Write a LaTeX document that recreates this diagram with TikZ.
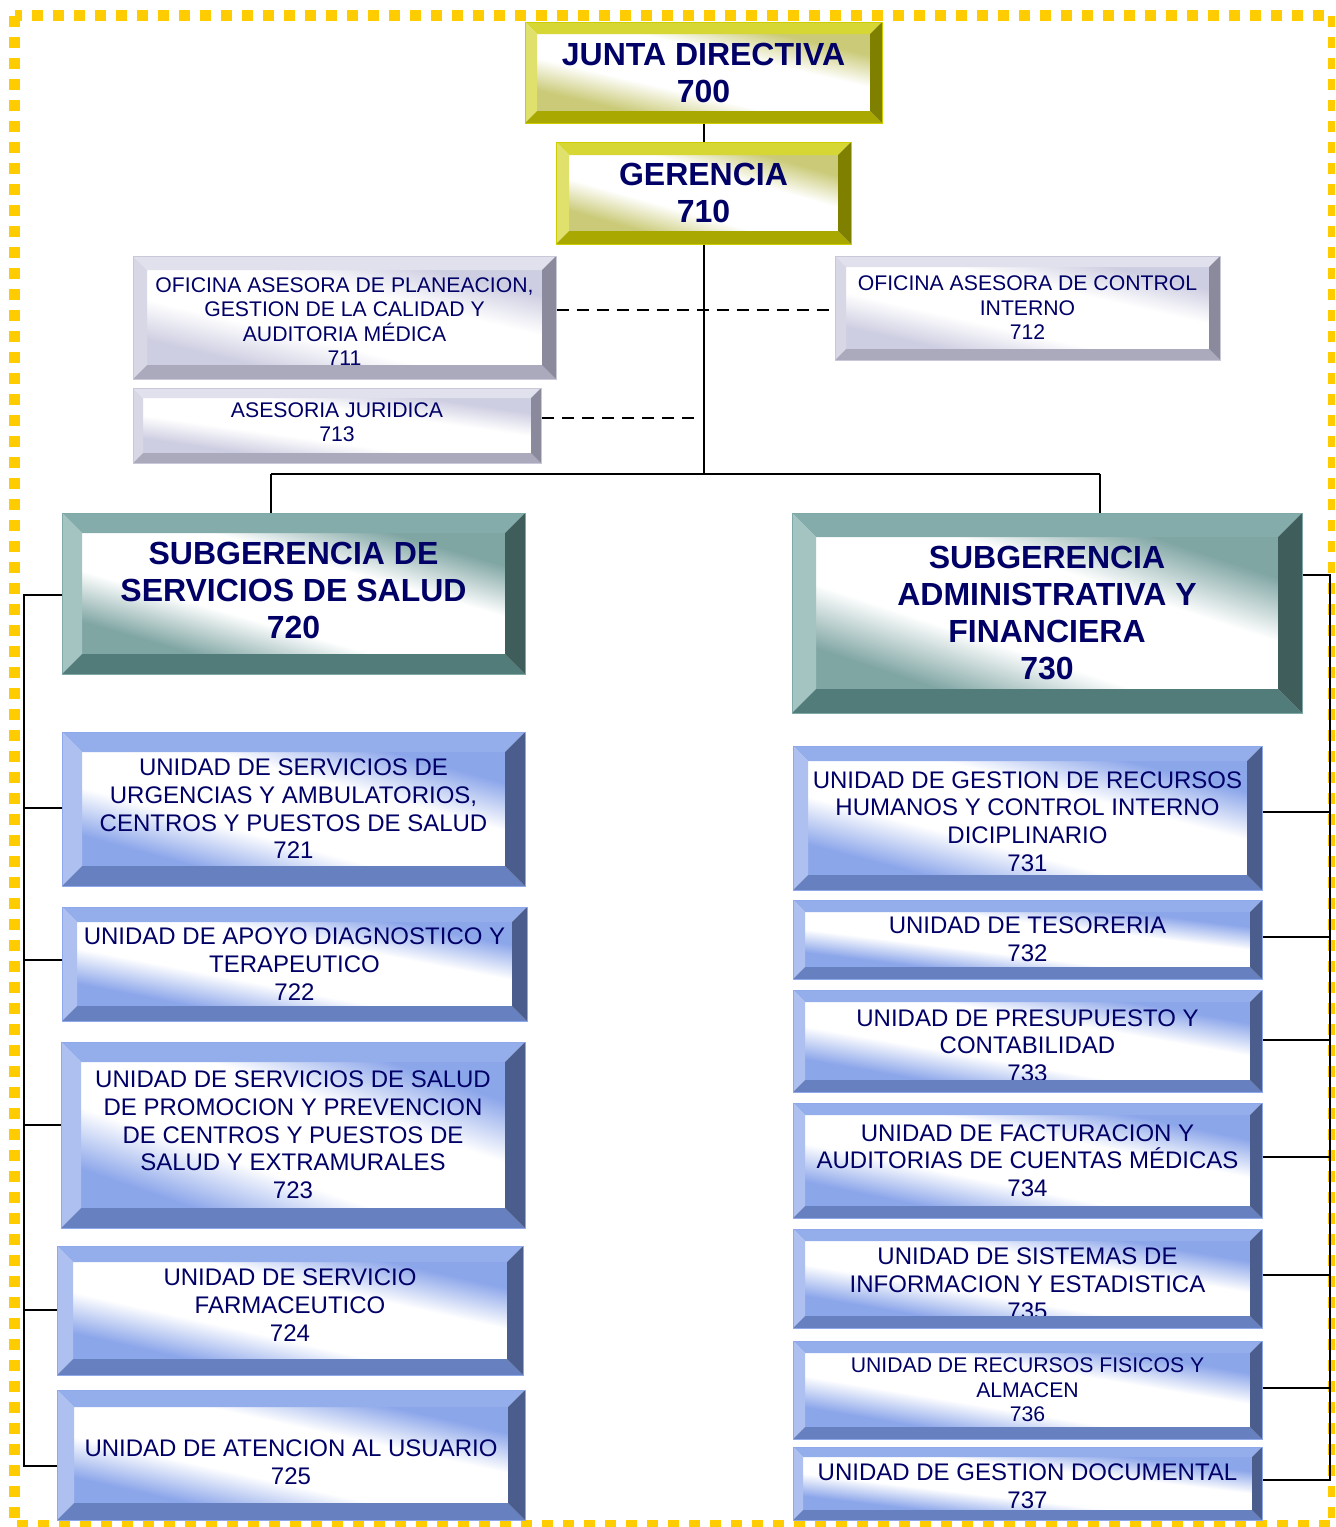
\documentclass[tikz,border=0pt]{standalone}
\usepackage{fontspec}
\setmainfont{Liberation Sans}

\definecolor{navytxt}{HTML}{000066}
\definecolor{frame}{HTML}{FFCC00}
% palettes: top, left, bottom, right bevel, face, outline
\definecolor{yeltop}{HTML}{D6D634}
\definecolor{yelleft}{HTML}{E0E06C}
\definecolor{yelbot}{HTML}{A8A800}
\definecolor{yelright}{HTML}{7F7F00}
\definecolor{yelface}{HTML}{CACA78}
\definecolor{yelline}{HTML}{CCCC00}
\definecolor{graytop}{HTML}{E1E1EE}
\definecolor{grayleft}{HTML}{D7D7E6}
\definecolor{graybot}{HTML}{AAAABC}
\definecolor{grayright}{HTML}{8A8A9C}
\definecolor{grayface}{HTML}{CECEE2}
\definecolor{grayline}{HTML}{C8C8D8}
\definecolor{tealtop}{HTML}{84ACAA}
\definecolor{tealleft}{HTML}{A4C4C2}
\definecolor{tealbot}{HTML}{527C79}
\definecolor{tealright}{HTML}{3F5E5B}
\definecolor{tealface}{HTML}{80A6A4}
\definecolor{tealline}{HTML}{7FA8A6}
\definecolor{bluetop}{HTML}{94ADEB}
\definecolor{blueleft}{HTML}{ADC0F0}
\definecolor{bluebot}{HTML}{6680C0}
\definecolor{blueright}{HTML}{4A5D8D}
\definecolor{blueface}{HTML}{8CA6EA}
\definecolor{blueline}{HTML}{8FA8EA}

% face shadings, white band across the middle
\pgfdeclarehorizontalshading{yelwash}{100bp}{color(0bp)=(yelface); color(24bp)=(yelface); color(39bp)=(white); color(61bp)=(white); color(76bp)=(yelface); color(100bp)=(yelface)}
\pgfdeclarehorizontalshading{graywash}{100bp}{color(0bp)=(grayface); color(24bp)=(grayface); color(39bp)=(white); color(61bp)=(white); color(76bp)=(grayface); color(100bp)=(grayface)}
\pgfdeclarehorizontalshading{tealwash}{100bp}{color(0bp)=(tealface); color(24bp)=(tealface); color(39bp)=(white); color(61bp)=(white); color(76bp)=(tealface); color(100bp)=(tealface)}
\pgfdeclarehorizontalshading{bluewash}{100bp}{color(0bp)=(blueface); color(24bp)=(blueface); color(39bp)=(white); color(61bp)=(white); color(76bp)=(blueface); color(100bp)=(blueface)}

\tikzset{
  toplabel/.style={font=\fontsize{16}{18.5}\selectfont\bfseries, text=navytxt, align=center, inner sep=0},
  unitlabel/.style={font=\fontsize{12}{13.85}\selectfont, text=navytxt, align=center, inner sep=0},
  notelabel/.style={font=\fontsize{10.6}{12.25}\selectfont, text=navytxt, align=center, inner sep=0},
  link/.style={draw=black, line width=1pt},
  notelink/.style={draw=black, line width=1.2pt, dash pattern=on 6pt off 4pt},
}

\newcommand{\bevelbox}[9]{%
% name, left, top, right, bottom, bevel width, palette, text options, text
  \pgfmathsetmacro{\xa}{#2}
  \pgfmathsetmacro{\ya}{#3}
  \pgfmathsetmacro{\xb}{#4}
  \pgfmathsetmacro{\yb}{#5}
  \pgfmathsetmacro{\bw}{#6}
  \pgfmathsetmacro{\sx}{(\xb-\xa-2*\bw)/100}
  \pgfmathsetmacro{\sy}{(\yb-\ya-2*\bw)/100}
  \shade[shading=#7wash, shading angle=45,
    transform canvas={shift={({(\xa+\xb)/2},{(\ya+\yb)/2})}, xscale=\sx, yscale=\sy}]
    (-50,-50) rectangle (50,50);
  \node[name=#1-txt, #8] at ({(\xa+\xb)/2},{(\ya+\yb)/2}) {#9};
  \fill[fill=#7top] (\xa,\ya) -- (\xb,\ya) -- (\xb-\bw,\ya+\bw) -- (\xa+\bw,\ya+\bw) -- cycle;
  \fill[fill=#7left] (\xa,\ya) -- (\xa+\bw,\ya+\bw) -- (\xa+\bw,\yb-\bw) -- (\xa,\yb) -- cycle;
  \fill[fill=#7bot] (\xa,\yb) -- (\xa+\bw,\yb-\bw) -- (\xb-\bw,\yb-\bw) -- (\xb,\yb) -- cycle;
  \fill[fill=#7right] (\xb,\ya) -- (\xb,\yb) -- (\xb-\bw,\yb-\bw) -- (\xb-\bw,\ya+\bw) -- cycle;
  \node[name=#1, draw=#7line, line width=0.5pt, inner sep=0,
    minimum width={(\xb-\xa)*0.5pt}, minimum height={(\yb-\ya)*0.5pt}]
    at ({(\xa+\xb)/2},{(\ya+\yb)/2}) {};
}

\begin{document}
\begin{tikzpicture}[x=0.5pt, y=-0.5pt]
  \useasboundingbox (0,0) rectangle (1335,1527);
  \clip (0,0) rectangle (1335,1527);
  \draw[frame, line width=5.5pt, dash pattern=on 5.5pt off 5pt] (14.5,15.5) rectangle (1333,1525);

  % direccion
  \bevelbox{b700}{525}{22}{882}{123}{12}{yel}{toplabel}{JUNTA DIRECTIVA\\700}
  \bevelbox{b710}{556}{142}{851}{244}{13}{yel}{toplabel}{GERENCIA\\710}
  \bevelbox{b711}{133}{256}{556}{379}{14}{gray}{notelabel, yshift=-2pt}{OFICINA ASESORA DE PLANEACION,\\GESTION DE LA CALIDAD Y\\AUDITORIA MÉDICA\\711}
  \bevelbox{b712}{835}{256}{1220}{360}{11}{gray}{notelabel}{OFICINA ASESORA DE CONTROL\\INTERNO\\712}
  \bevelbox{b713}{133}{388}{541}{463}{10}{gray}{notelabel, yshift=1.75pt}{ASESORIA JURIDICA\\713}

  % subgerencias
  \bevelbox{b720}{62}{513}{525}{674}{20}{teal}{toplabel, yshift=1.75pt}{SUBGERENCIA DE\\SERVICIOS DE SALUD\\720}
  \bevelbox{b730}{792}{513}{1302}{713}{24}{teal}{toplabel}{SUBGERENCIA\\ADMINISTRATIVA Y\\FINANCIERA\\730}

  % unidades salud
  \bevelbox{b721}{62}{732}{525}{886}{20}{blue}{unitlabel}{UNIDAD DE SERVICIOS DE\\URGENCIAS Y AMBULATORIOS,\\CENTROS Y PUESTOS DE SALUD\\721}
  \bevelbox{b722}{62}{907}{527}{1021}{15}{blue}{unitlabel}{UNIDAD DE APOYO DIAGNOSTICO Y\\TERAPEUTICO\\722}
  \bevelbox{b723}{61}{1042}{525}{1228}{20}{blue}{unitlabel}{UNIDAD DE SERVICIOS DE SALUD\\DE PROMOCION Y PREVENCION\\DE CENTROS Y PUESTOS DE\\SALUD Y EXTRAMURALES\\723}
  \bevelbox{b724}{57}{1246}{523}{1375}{16}{blue}{unitlabel, yshift=2.75pt}{UNIDAD DE SERVICIO\\FARMACEUTICO\\724}
  \bevelbox{b725}{57}{1390}{525}{1520}{17}{blue}{unitlabel, yshift=-3.75pt}{UNIDAD DE ATENCION AL USUARIO\\725}

  % unidades administrativas
  \foreach \n/\ya/\yb/\bev/\dy/\txt in {
      731/746/890/15/-1.75/{UNIDAD DE GESTION DE RECURSOS\\HUMANOS Y CONTROL INTERNO\\DICIPLINARIO\\731},
      732/900/979/12/0/{UNIDAD DE TESORERIA\\732},
      733/990/1092/12/-2.25/{UNIDAD DE PRESUPUESTO Y\\CONTABILIDAD\\733},
      734/1103/1218/12/0/{UNIDAD DE FACTURACION Y\\AUDITORIAS DE CUENTAS MÉDICAS\\734},
      735/1229/1328/12/-2.75/{UNIDAD DE SISTEMAS DE\\INFORMACION Y ESTADISTICA\\735}} {
    \bevelbox{b\n}{793}{\ya}{1262}{\yb}{\bev}{blue}{unitlabel, yshift=\dy pt}{\txt}
  }
  \bevelbox{b736}{793}{1341}{1262}{1439}{12}{blue}{notelabel}{UNIDAD DE RECURSOS FISICOS Y\\ALMACEN\\736}
  \bevelbox{b737}{793}{1447}{1262}{1520}{10}{blue}{unitlabel, yshift=-1.25pt}{UNIDAD DE GESTION DOCUMENTAL\\737}

  % conectores
  \coordinate (hub) at (705,474);
  \coordinate (hl) at (271,474);
  \coordinate (hr) at (1100,474);
  \coordinate (plan) at (705,310);
  \coordinate (jur) at (700,418);
  \coordinate (lsp) at (24,595);
  \coordinate (rsp) at (1330,575);
  \draw[link] (b700.south) -- (b710.north);
  \draw[link] (b710.south) -- (b710.south |- hub);
  \draw[link] (hl) -- (hr);
  \draw[link] (hl) -- (hl |- b720.north);
  \draw[link] (hr) -- (hr |- b730.north);
  \draw[notelink] (plan -| b711.east) -- (plan -| b712.west);
  \draw[notelink] (jur -| b713.east) -- (jur);

  \draw[link] (lsp -| b720.west) -- (lsp) -- (lsp |- 0,1466) -- (b725.west |- 0,1466);
  \foreach \u/\y in {721/808, 722/960, 723/1125, 724/1310}
    \draw[link] (b\u.west |- 0,\y) -- (lsp |- 0,\y);
  \draw[link] (rsp -| b730.east) -- (rsp) -- (rsp |- 0,1480) -- (b737.east |- 0,1480);
  \foreach \u/\y in {731/812, 732/937, 733/1040, 734/1157, 735/1275, 736/1388}
    \draw[link] (b\u.east |- 0,\y) -- (rsp |- 0,\y);
\end{tikzpicture}
\end{document}
